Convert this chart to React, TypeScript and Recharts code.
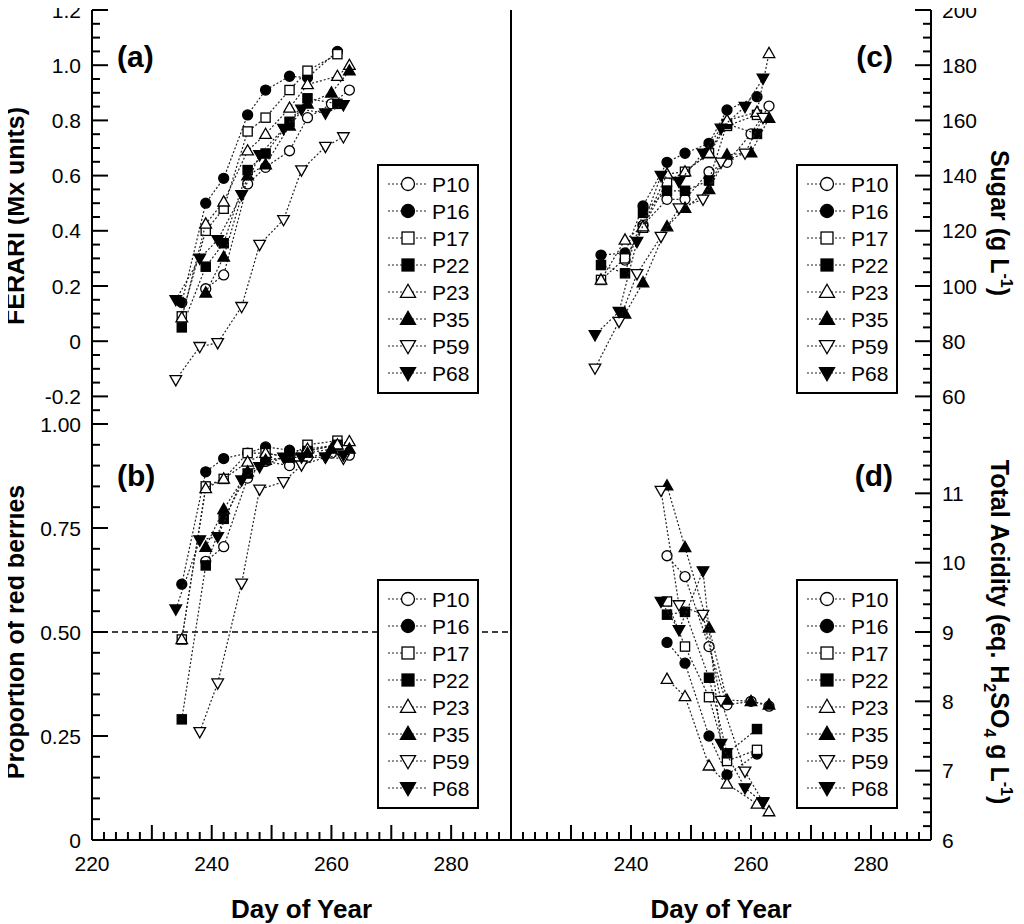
import React from 'react';
import { ScatterChart, Scatter, XAxis, YAxis, ReferenceLine } from 'recharts';

const FONT = "'Liberation Sans', Arial, Helvetica, sans-serif";

// ---------- categories ----------
const seriesNames = ['P10', 'P16', 'P17', 'P22', 'P23', 'P35', 'P59', 'P68'];

// ---------- sampling days (Day of Year) ----------
const daysP10 = [239, 242, 246, 249, 253, 256, 260, 263];
const daysP16 = [235, 239, 242, 246, 249, 253, 256, 261];
const daysP17 = [235, 239, 242, 246, 249, 253, 256, 261];
const daysP22 = [235, 239, 242, 246, 249, 253, 256, 261];
const daysP23 = [235, 239, 242, 246, 249, 253, 256, 261, 263];
const daysP35 = [239, 242, 246, 249, 253, 256, 260, 263];
const daysP59 = [234, 238, 241, 245, 248, 252, 255, 259, 262];
const daysP68 = [234, 238, 241, 245, 248, 252, 255, 259, 262];
const redDaysP59 = [238, 241, 245, 248, 252, 255, 259, 262];
const acidDaysP10 = [246, 249, 253, 256, 260, 263];
const acidDaysP16 = [246, 249, 253, 256, 261];
const acidDaysP17 = [246, 249, 253, 256, 261];
const acidDaysP22 = [246, 249, 253, 256, 261];
const acidDaysP23 = [246, 249, 253, 256, 261, 263];
const acidDaysP35 = [246, 249, 253, 256, 260, 263];
const acidDaysP59 = [245, 248, 252, 255, 259, 262];
const acidDaysP68 = [245, 248, 252, 255, 259, 262];

// ---------- (a) FERARI (Mx units) ----------
const ferariP10 = [0.19, 0.24, 0.57, 0.63, 0.69, 0.81, 0.86, 0.91];
const ferariP16 = [0.14, 0.5, 0.59, 0.82, 0.91, 0.96, 0.955, 1.05];
const ferariP17 = [0.09, 0.4, 0.48, 0.76, 0.81, 0.91, 0.98, 1.04];
const ferariP22 = [0.05, 0.27, 0.355, 0.62, 0.68, 0.795, 0.88, 0.86];
const ferariP23 = [0.085, 0.425, 0.505, 0.69, 0.75, 0.845, 0.93, 0.96, 1.0];
const ferariP35 = [0.175, 0.305, 0.6, 0.64, 0.78, 0.86, 0.9, 0.98];
const ferariP59 = [-0.14, -0.02, -0.006, 0.125, 0.35, 0.44, 0.62, 0.705, 0.74];
const ferariP68 = [0.15, 0.3, 0.367, 0.53, 0.675, 0.77, 0.84, 0.826, 0.856];

// ---------- (b) Proportion of red berries ----------
const redP10 = [0.67, 0.705, 0.87, 0.91, 0.9, 0.92, 0.93, 0.925];
const redP16 = [0.615, 0.885, 0.917, 0.93, 0.945, 0.937, 0.935, 0.95];
const redP17 = [0.482, 0.85, 0.868, 0.93, 0.93, 0.92, 0.95, 0.96];
const redP22 = [0.29, 0.66, 0.772, 0.881, 0.913, 0.92, 0.935, 0.95];
const redP23 = [0.482, 0.845, 0.868, 0.909, 0.93, 0.92, 0.94, 0.95, 0.958];
const redP35 = [0.704, 0.795, 0.885, 0.913, 0.92, 0.93, 0.94, 0.94];
const redP59 = [0.26, 0.377, 0.617, 0.843, 0.861, 0.901, 0.92, 0.917];
const redP68 = [0.555, 0.721, 0.729, 0.865, 0.897, 0.92, 0.92, 0.92, 0.925];

// ---------- (c) Sugar (g/L) ----------
const sugarP10 = [109.4, 122, 131.4, 131.4, 141.4, 144.8, 155.1, 165.2];
const sugarP16 = [111.2, 112, 129, 144.8, 148.1, 151.7, 163.8, 168.6];
const sugarP17 = [102.2, 110, 121.1, 137.8, 141.4, 148.1, 158, 162];
const sugarP22 = [107.6, 104.6, 126.5, 134.5, 134.5, 138.2, 158.7, 155.1];
const sugarP23 = [102.2, 116.7, 121.5, 140.6, 141.4, 148.1, 160, 163, 184.3];
const sugarP35 = [89.9, 101.2, 121.5, 128.2, 135, 147.5, 148.3, 160.8];
const sugarP59 = [70.2, 87.1, 104.4, 117.9, 128.2, 131.4, 144.8, 148.1, 161];
const sugarP68 = [82.3, 90.7, 116.1, 140, 137.8, 148.1, 157.1, 165, 175.2];

// ---------- (d) Total acidity (eq. H2SO4 g/L) ----------
const acidP10 = [10.1, 9.8, 8.79, 7.95, 8.0, 7.93];
const acidP16 = [8.85, 8.55, 7.5, 6.94, 7.24];
const acidP17 = [9.44, 8.79, 8.06, 7.14, 7.3];
const acidP22 = [9.25, 9.29, 8.34, 7.25, 7.6];
const acidP23 = [8.32, 8.07, 7.07, 6.81, 6.52, 6.41];
const acidP35 = [11.11, 10.22, 9.06, 8.02, 8.0, 7.95];
const acidP59 = [11.04, 9.39, 9.25, 8.01, 6.99, 6.55];
const acidP68 = [9.44, 9.03, 9.88, 7.39, 6.75, 6.54];

// ---------- tick labels ----------
const xTickLabelsLeft = [220, 240, 260, 280];
const xTickLabelsRight = [240, 260, 280];
const ferariTickLabels = [-0.2, 0, 0.2, 0.4, 0.6, 0.8, 1.0, 1.2];
const redTickLabels = [0, 0.25, 0.5, 0.75, 1.0];
const sugarTickLabels = [60, 80, 100, 120, 140, 160, 180, 200];
const acidTickLabels = [6, 7, 8, 9, 10, 11];

// ---------- series tables ----------
const ferariSeries = [
  { days: daysP10, values: ferariP10 }, { days: daysP16, values: ferariP16 },
  { days: daysP17, values: ferariP17 }, { days: daysP22, values: ferariP22 },
  { days: daysP23, values: ferariP23 }, { days: daysP35, values: ferariP35 },
  { days: daysP59, values: ferariP59 }, { days: daysP68, values: ferariP68 },
];
const redSeries = [
  { days: daysP10, values: redP10 }, { days: daysP16, values: redP16 },
  { days: daysP17, values: redP17 }, { days: daysP22, values: redP22 },
  { days: daysP23, values: redP23 }, { days: daysP35, values: redP35 },
  { days: redDaysP59, values: redP59 }, { days: daysP68, values: redP68 },
];
const sugarSeries = [
  { days: daysP10, values: sugarP10 }, { days: daysP16, values: sugarP16 },
  { days: daysP17, values: sugarP17 }, { days: daysP22, values: sugarP22 },
  { days: daysP23, values: sugarP23 }, { days: daysP35, values: sugarP35 },
  { days: daysP59, values: sugarP59 }, { days: daysP68, values: sugarP68 },
];
const acidSeries = [
  { days: acidDaysP10, values: acidP10 }, { days: acidDaysP16, values: acidP16 },
  { days: acidDaysP17, values: acidP17 }, { days: acidDaysP22, values: acidP22 },
  { days: acidDaysP23, values: acidP23 }, { days: acidDaysP35, values: acidP35 },
  { days: acidDaysP59, values: acidP59 }, { days: acidDaysP68, values: acidP68 },
];

// ---------- styles ----------
type Kind = 'circle' | 'square' | 'up' | 'down';
const markerStyles: { kind: Kind; filled: boolean }[] = [
  { kind: 'circle', filled: false },
  { kind: 'circle', filled: true },
  { kind: 'square', filled: false },
  { kind: 'square', filled: true },
  { kind: 'up', filled: false },
  { kind: 'up', filled: true },
  { kind: 'down', filled: false },
  { kind: 'down', filled: true },
];

const range = (a: number, b: number, step: number) => {
  const n = Math.round((b - a) / step);
  return Array.from({ length: n + 1 }, (_, i) => +(a + i * step).toFixed(4));
};

function Marker({ cx, cy, kind, filled, size }: { cx: number; cy: number; kind: Kind; filled: boolean; size: number }) {
  if (cx == null || cy == null || isNaN(cx) || isNaN(cy)) return null;
  const f = filled ? '#000' : '#fff';
  const sw = 1.3;
  if (kind === 'circle') return <circle cx={cx} cy={cy} r={size / 2} fill={f} stroke="#000" strokeWidth={sw} />;
  if (kind === 'square') {
    const h = size * 0.46;
    return <rect x={cx - h} y={cy - h} width={2 * h} height={2 * h} fill={f} stroke="#000" strokeWidth={sw} />;
  }
  const w = size * 0.58;
  const hu = size * 0.6;
  const hd = size * 0.42;
  const pts =
    kind === 'up'
      ? `${cx},${cy - hu} ${cx + w},${cy + hd} ${cx - w},${cy + hd}`
      : `${cx},${cy + hu} ${cx + w},${cy - hd} ${cx - w},${cy - hd}`;
  return <polygon points={pts} fill={f} stroke="#000" strokeWidth={sw} strokeLinejoin="miter" />;
}

const AXIS_LINE = { stroke: '#000', strokeWidth: 2 };

const xTick = (labels: number[], side: 'bottom' | 'top') => (p: any) => {
  const v = p.payload.value;
  const major = Math.round(v) % 10 === 0;
  const len = major ? 15 : 8;
  const dir = side === 'bottom' ? -1 : 1;
  return (
    <g>
      <line x1={p.x} x2={p.x} y1={p.y} y2={p.y + dir * len} stroke="#000" strokeWidth={2} />
      {labels.includes(v) && (
        <text x={p.x} y={p.y + 31} textAnchor="middle" fontSize={21} fontFamily={FONT} fill="#000">
          {v}
        </text>
      )}
    </g>
  );
};

const yTick = (labels: number[], fmt: (v: number) => string, side: 'left' | 'right') => (p: any) => {
  const v = p.payload.value;
  const isLab = labels.some((l) => Math.abs(l - v) < 1e-6);
  const len = isLab ? 16 : 8;
  const dir = side === 'left' ? 1 : -1;
  return (
    <g>
      <line x1={p.x} x2={p.x + dir * len} y1={p.y} y2={p.y} stroke="#000" strokeWidth={2} />
      {isLab && (
        <text
          x={p.x - dir * 11}
          y={p.y}
          dy="0.36em"
          textAnchor={side === 'left' ? 'end' : 'start'}
          fontSize={21}
          fontFamily={FONT}
          fill="#000"
        >
          {fmt(v)}
        </text>
      )}
    </g>
  );
};

type PanelProps = {
  left: number;
  top: number;
  width: number;
  height: number;
  margin: { top: number; right: number; bottom: number; left: number };
  yDomain: [number, number];
  yStep: number;
  yLabels: number[];
  yFmt: (v: number) => string;
  ySide: 'left' | 'right';
  yWidth: number;
  xLabels: number[];
  xHeight: number;
  edgeX: number;
  refY?: number;
  series: { days: number[]; values: number[] }[];
};

function Panel(p: PanelProps) {
  const xTicks = range(220, 290, 2);
  const yTicks = range(p.yDomain[0], p.yDomain[1], p.yStep);
  return (
    <div style={{ position: 'absolute', left: p.left, top: p.top }}>
      <ScatterChart width={p.width} height={p.height} margin={p.margin}>
        <XAxis
          xAxisId="bottom"
          type="number"
          dataKey="x"
          domain={[220, 290]}
          ticks={xTicks}
          interval={0}
          allowDataOverflow
          tickSize={0}
          tickMargin={0}
          tickLine={false}
          axisLine={AXIS_LINE}
          height={p.xHeight}
          tick={xTick(p.xLabels, 'bottom')}
        />
        <XAxis
          xAxisId="top"
          orientation="top"
          type="number"
          dataKey="x"
          domain={[220, 290]}
          ticks={xTicks}
          interval={0}
          allowDataOverflow
          tickSize={0}
          tickMargin={0}
          tickLine={false}
          axisLine={AXIS_LINE}
          height={0}
          tick={xTick([], 'top')}
        />
        <YAxis
          yAxisId="y"
          orientation={p.ySide}
          type="number"
          dataKey="y"
          domain={p.yDomain}
          ticks={yTicks}
          interval={0}
          allowDataOverflow
          tickSize={0}
          tickMargin={0}
          tickLine={false}
          axisLine={AXIS_LINE}
          width={p.yWidth}
          tick={yTick(p.yLabels, p.yFmt, p.ySide)}
        />
        {p.refY !== undefined && (
          <ReferenceLine xAxisId="bottom" yAxisId="y" y={p.refY} stroke="#000" strokeWidth={1.6} strokeDasharray="6 4" />
        )}
        <ReferenceLine xAxisId="bottom" yAxisId="y" x={p.edgeX} stroke="#000" strokeWidth={2} />
        {p.series.map((s, i) => {
          const st = markerStyles[i];
          return (
            <Scatter
              key={seriesNames[i]}
              name={seriesNames[i]}
              xAxisId="bottom"
              yAxisId="y"
              data={s.days.map((d, j) => ({ x: d, y: s.values[j] }))}
              isAnimationActive={false}
              line={{ stroke: '#222', strokeWidth: 1.2, strokeDasharray: '2 2' }}
              lineType="joint"
              shape={(sp: any) => <Marker cx={sp.cx} cy={sp.cy} kind={st.kind} filled={st.filled} size={10} />}
            />
          );
        })}
      </ScatterChart>
    </div>
  );
}

function LegendBox({ x, y }: { x: number; y: number }) {
  return (
    <g>
      <rect x={x} y={y} width={100} height={228} fill="#fff" stroke="#000" strokeWidth={2} />
      {seriesNames.map((n, i) => {
        const cy = y + 19 + 27 * i;
        const st = markerStyles[i];
        return (
          <g key={n}>
            <line x1={x + 10} x2={x + 49} y1={cy} y2={cy} stroke="#222" strokeWidth={1.2} strokeDasharray="2 2" />
            <Marker cx={x + 30} cy={cy} kind={st.kind} filled={st.filled} size={13} />
            <text x={x + 54} y={cy} dy="0.36em" fontSize={21} fontFamily={FONT} fill="#000">
              {n}
            </text>
          </g>
        );
      })}
    </g>
  );
}

const fmt1 = (v: number) => (v === 0 ? '0' : v.toFixed(1));
const fmt2 = (v: number) => (v === 0 ? '0' : v.toFixed(2));
const fmtInt = (v: number) => String(v);

export default function App() {
  return (
    <div style={{ position: 'relative', width: 1016, height: 916, fontFamily: FONT, background: '#fff' }}>
      {/* (a) */}
      <Panel
        left={0}
        top={-18}
        width={506}
        height={438}
        margin={{ top: 20, right: 3, bottom: 4, left: 0 }}
        yDomain={[-0.3, 1.2]}
        yStep={0.05}
        yLabels={ferariTickLabels}
        yFmt={fmt1}
        ySide="left"
        yWidth={84}
        xLabels={[]}
        xHeight={0}
        edgeX={290}
        series={ferariSeries}
      />
      {/* (b) */}
      <Panel
        left={0}
        top={404}
        width={506}
        height={470}
        margin={{ top: 12, right: 3, bottom: 2, left: 0 }}
        yDomain={[0, 1]}
        yStep={0.05}
        yLabels={redTickLabels}
        yFmt={fmt2}
        ySide="left"
        yWidth={84}
        xLabels={xTickLabelsLeft}
        xHeight={40}
        edgeX={290}
        refY={0.5}
        series={redSeries}
      />
      {/* (c) */}
      <Panel
        left={500}
        top={-18}
        width={485}
        height={438}
        margin={{ top: 20, right: 2, bottom: 4, left: 3 }}
        yDomain={[50, 200]}
        yStep={5}
        yLabels={sugarTickLabels}
        yFmt={fmtInt}
        ySide="right"
        yWidth={60}
        xLabels={[]}
        xHeight={0}
        edgeX={220}
        series={sugarSeries}
      />
      {/* (d) */}
      <Panel
        left={500}
        top={404}
        width={485}
        height={470}
        margin={{ top: 12, right: 2, bottom: 2, left: 3 }}
        yDomain={[6, 12]}
        yStep={0.2}
        yLabels={acidTickLabels}
        yFmt={fmtInt}
        ySide="right"
        yWidth={60}
        xLabels={xTickLabelsRight}
        xHeight={40}
        edgeX={220}
        series={acidSeries}
      />
      <svg
        width={1016}
        height={916}
        style={{ position: 'absolute', left: 0, top: 0, overflow: 'visible', pointerEvents: 'none' }}
      >
        <LegendBox x={370} y={157} />
        <LegendBox x={370} y={572} />
        <LegendBox x={789} y={157} />
        <LegendBox x={789} y={572} />
        <g fontFamily={FONT} fontWeight="bold" fill="#000">
          <text x={109} y={59} fontSize={30}>(a)</text>
          <text x={109} y={478} fontSize={30}>(b)</text>
          <text x={885} y={59} fontSize={30} textAnchor="end">(c)</text>
          <text x={885} y={478} fontSize={30} textAnchor="end">(d)</text>
          <text transform="translate(16,208) rotate(-90)" textAnchor="middle" fontSize={25}>
            FERARI (Mx units)
          </text>
          <text transform="translate(16,624) rotate(-90)" textAnchor="middle" fontSize={25}>
            Proportion of red berries
          </text>
          <text transform="translate(983,215) rotate(90)" textAnchor="middle" fontSize={25}>
            Sugar (g L
            <tspan dy={-10} fontSize={16}>-1</tspan>
            <tspan dy={10}>)</tspan>
          </text>
          <text transform="translate(983,624) rotate(90)" textAnchor="middle" fontSize={25}>
            Total Acidity (eq. H
            <tspan dy={7} fontSize={16}>2</tspan>
            <tspan dy={-7}>SO</tspan>
            <tspan dy={7} fontSize={16}>4</tspan>
            <tspan dy={-7}> g L</tspan>
            <tspan dy={-10} fontSize={16}>-1</tspan>
            <tspan dy={10}>)</tspan>
          </text>
          <text x={293.5} y={910} textAnchor="middle" fontSize={26}>Day of Year</text>
          <text x={713} y={910} textAnchor="middle" fontSize={26}>Day of Year</text>
        </g>
      </svg>
    </div>
  );
}
